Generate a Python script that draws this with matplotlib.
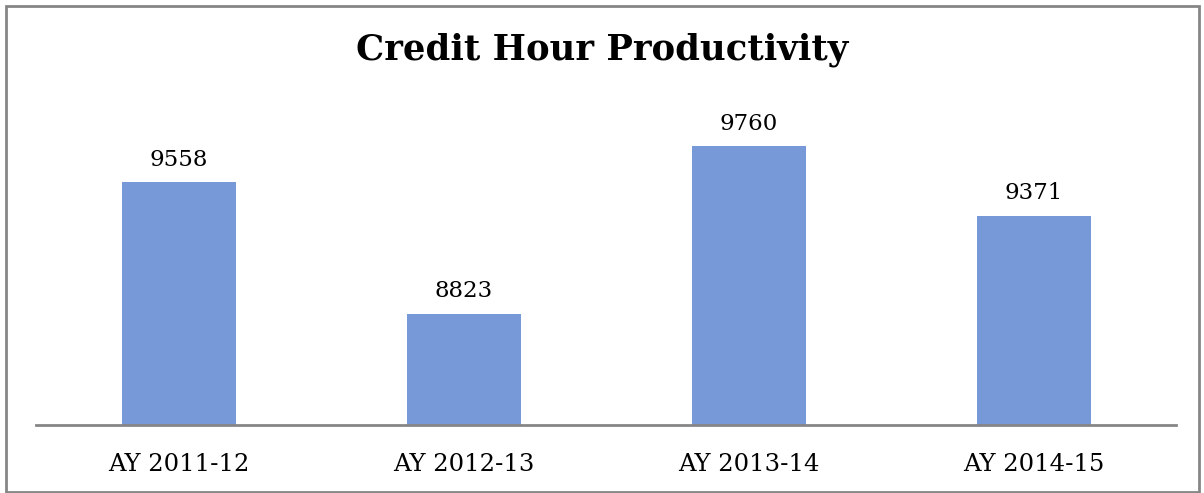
import matplotlib
matplotlib.use("Agg")
import matplotlib.pyplot as plt
from matplotlib.patches import Rectangle

categories = ["AY 2011-12", "AY 2012-13", "AY 2013-14", "AY 2014-15"]
values = [9558, 8823, 9760, 9371]
title = "Credit Hour Productivity"

plt.rcParams['font.family'] = ['DejaVu Serif']

W, H = 1204, 493
fig = plt.figure(figsize=(W / 100, H / 100), dpi=100)
fig.patch.set_facecolor("white")
fig.add_artist(Rectangle((5.5 / W, 1 - 491.5 / H), (1199 - 5.5) / W, (491.5 - 5.5) / H,
                         transform=fig.transFigure, fill=False, edgecolor="#868686", linewidth=2))

ax = fig.add_axes([36 / W, 1 - 425 / H, (1176 - 36) / W, (425 - 103) / H])
x = range(len(categories))
bars = ax.bar(x, values, width=0.4, color="#7799D7", zorder=2)
ax.set_xlim(-0.5, len(categories) - 0.5)
ax.set_ylim(8200, 10000)
for xi, v in zip(x, values):
    ax.annotate(str(v), (xi, v), xytext=(0, 8), textcoords="offset points",
                ha="center", va="bottom", fontsize=16.5, color="black")
for s in ["top", "right", "left"]:
    ax.spines[s].set_visible(False)
ax.spines["bottom"].set_color("#868686")
ax.spines["bottom"].set_linewidth(2)
ax.set_yticks([])
ax.set_xticks(list(x))
ax.set_xticklabels(categories, fontsize=17.5)
ax.tick_params(axis="x", length=0, pad=20)
fig.text(0.5, 1 - 50 / H, title, ha="center", va="center", fontsize=25.5, fontweight="bold")

fig.savefig("out.png", dpi=100)
